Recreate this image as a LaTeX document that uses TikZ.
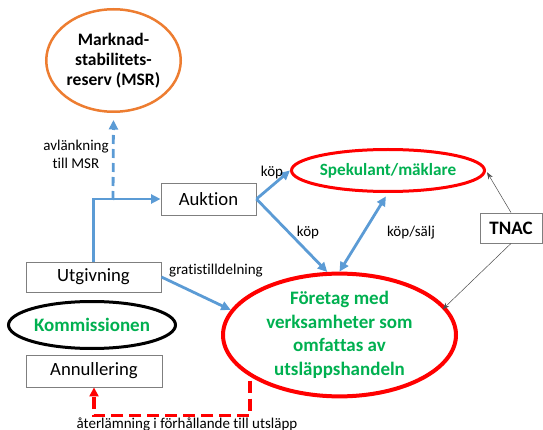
\documentclass[tikz,border=0pt]{standalone}
\usepackage{fontspec}
\setmainfont{Carlito}[Ligatures=NoCommon]
\usetikzlibrary{arrows.meta,shapes.geometric}
\definecolor{pgreen}{HTML}{00B050}
\definecolor{pred}{HTML}{FF0000}
\definecolor{pblue}{HTML}{5B9BD5}
\definecolor{porange}{HTML}{ED7D31}
\definecolor{pgray}{HTML}{7F7F7F}
\tikzset{
  boxnode/.style={draw=pgray, line width=0.9pt, rectangle, inner sep=0pt, font=\fontsize{18.7}{22}\selectfont},
  ovalnode/.style={ellipse, inner sep=0pt, align=center, font=\fontsize{19}{23.5}\selectfont\bfseries, text=pgreen},
  bluearrow/.style={draw=pblue, line width=2.8pt, -{Triangle[length=9.5pt,width=9pt]}},
  bluedouble/.style={draw=pblue, line width=2.8pt, {Triangle[length=9.5pt,width=9pt]}-{Triangle[length=9.5pt,width=9pt]}},
  bluedash/.style={bluearrow, dash pattern=on 9pt off 5pt},
  reddash/.style={draw=pred, line width=3.5pt, dash pattern=on 12pt off 6pt, -{Triangle[length=9pt,width=9pt]}},
  thinarrow/.style={draw=black!70, line width=0.5pt, -{Stealth[length=7pt,width=5pt]}},
  lbl/.style={inner sep=0pt, font=\fontsize{15}{18}\selectfont, align=center}
}
\begin{document}
\begin{tikzpicture}[x=1pt,y=-1pt]
\path[use as bounding box] (0,0) rectangle (543,430);
% nodes
\node[ovalnode, draw=porange, line width=2.5pt, text=black, minimum width=134.5pt, minimum height=102.5pt, font=\fontsize{17.5}{20}\selectfont\bfseries] (msr) at (113.5,60.5) {Marknad-\\stabilitets-\\reserv (MSR)};
\node[ovalnode, draw=pred, line width=3pt, minimum width=165pt, minimum height=42pt, font=\fontsize{17.2}{20}\selectfont\bfseries] (spek) at (388,170.5) {Spekulant/mäklare};
\node[ovalnode, draw=pred, line width=4pt, minimum width=233pt, minimum height=109pt] (fore) at (339.5,335) {Företag med\\verksamheter som\\omfattas av\\utsläppshandeln};
\node[ovalnode, draw=black, line width=3pt, minimum width=167pt, minimum height=47pt] (komm) at (92,325) {Kommissionen};
\node[boxnode, minimum width=95pt, minimum height=32pt] (auk) at (208.5,199) {Auktion};
\node[boxnode, minimum width=135pt, minimum height=30pt] (utg) at (93.5,277) {Utgivning};
\node[boxnode, minimum width=136pt, minimum height=32pt] (ann) at (94,371) {Annullering};
\node[boxnode, minimum width=62pt, minimum height=30pt, font=\fontsize{19}{22}\selectfont\bfseries] (tnac) at (511,228) {TNAC};
% connectors
\coordinate (junc) at (113,200);
\draw[bluearrow] (utg.north) |- (auk.west);
\draw[bluedash, shorten >=7pt] (junc) -- (msr.south);
\draw[bluearrow] (auk.east) -- (spek.west);
\draw[bluearrow] (auk.east) -- (fore.101);
\draw[bluedouble, shorten <=4pt] (spek.south) -- (fore.north);
\draw[bluearrow] (utg.east) -- (fore.167);
\draw[thinarrow, shorten >=2pt] (tnac.north) -- (spek.east);
\draw[thinarrow, shorten >=-4pt] (tnac.south) -- (fore.15);
\draw[reddash, shorten <=4pt] (fore.205) -- ++(0,39) -| (ann.south);
% labels
\node[lbl] (lavl) at (76,154) {avlänkning\\till MSR};
\node[lbl] (lkop1) at (272,173) {köp};
\node[lbl] (lkop2) at (308,233) {köp};
\node[lbl] (lkops) at (411,233) {köp/sälj};
\node[lbl] (lgrat) at (216,271) {gratistilldelning};
\node[lbl, anchor=base] (later) at (187,428) {återlämning i förhållande till utsläpp};
\end{tikzpicture}
\end{document}
